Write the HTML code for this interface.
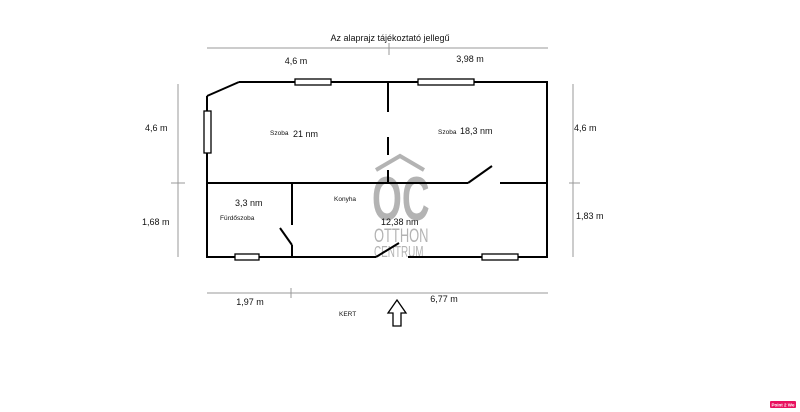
<!DOCTYPE html>
<html><head><meta charset="utf-8"><style>html,body{margin:0;padding:0;background:#fff;}svg{display:block;}</style></head>
<body>
<svg width="800" height="412" viewBox="0 0 800 412" xmlns="http://www.w3.org/2000/svg" font-family="Liberation Sans, sans-serif">
<!-- watermark -->
<g fill="#9a9a9a" opacity="0.75">
<polyline points="376,170 400,156 424,170" fill="none" stroke="#9a9a9a" stroke-width="4"/>
<text x="0" y="0" font-size="62" font-weight="bold" transform="translate(372,220) scale(0.62,1)">OC</text>
<text x="0" y="0" font-size="19" transform="translate(374,242) scale(0.68,1)">OTTHON</text>
<text x="0" y="0" font-size="16" transform="translate(374,257) scale(0.62,1)">CENTRUM</text>
</g>
<g stroke="#000" stroke-width="2" fill="none">
<line x1="207" y1="96" x2="239" y2="82"/>
<line x1="239" y1="82" x2="548" y2="82"/>
<line x1="207" y1="96" x2="207" y2="258"/>
<line x1="547" y1="82" x2="547" y2="258"/>
<line x1="206" y1="257" x2="376" y2="257"/>
<line x1="376" y1="257" x2="399" y2="243"/>
<line x1="408" y1="257" x2="548" y2="257"/>
<line x1="207" y1="183" x2="468" y2="183"/>
<line x1="468" y1="183" x2="492" y2="166"/>
<line x1="500" y1="183" x2="547" y2="183"/>
<line x1="388" y1="82" x2="388" y2="112"/>
<line x1="388" y1="137" x2="388" y2="155"/>
<line x1="388" y1="170" x2="388" y2="183"/>
<line x1="292" y1="183" x2="292" y2="225"/>
<line x1="280" y1="228" x2="292" y2="245"/>
<line x1="292" y1="245" x2="292" y2="257"/>
</g>
<g stroke="#000" stroke-width="1.3" fill="#fff">
<rect x="295" y="79" width="36" height="6"/>
<rect x="418" y="79" width="56" height="6"/>
<rect x="204" y="111" width="7" height="42"/>
<rect x="235" y="254" width="24" height="6"/>
<rect x="482" y="254" width="36" height="6"/>
</g>
<g stroke="#999" stroke-width="1">
<line x1="207" y1="48" x2="548" y2="48"/>
<line x1="389" y1="43" x2="389" y2="55"/>
<line x1="178" y1="84" x2="178" y2="257"/>
<line x1="171" y1="183" x2="185" y2="183"/>
<line x1="573" y1="84" x2="573" y2="257"/>
<line x1="569" y1="183" x2="580" y2="183"/>
<line x1="207" y1="293" x2="548" y2="293"/>
<line x1="291" y1="288" x2="291" y2="298"/>
</g>
<polygon points="397,300 406,313 401,313 401,326 393,326 393,313 388,313" fill="#fff" stroke="#000" stroke-width="1.3"/>
<g fill="#111" font-size="9">
<text x="390" y="41" text-anchor="middle">Az alaprajz tájékoztató jellegű</text>
<text x="296" y="64" text-anchor="middle">4,6 m</text>
<text x="470" y="62" text-anchor="middle">3,98 m</text>
<text x="145" y="131">4,6 m</text>
<text x="574" y="131">4,6 m</text>
<text x="142" y="225">1,68 m</text>
<text x="576" y="219">1,83 m</text>
<text x="250" y="305" text-anchor="middle">1,97 m</text>
<text x="444" y="302" text-anchor="middle">6,77 m</text>
<text x="293" y="137">21 nm</text>
<text x="460" y="134">18,3 nm</text>
<text x="235" y="206">3,3 nm</text>
<text x="381" y="225">12,38 nm</text>
</g>
<g fill="#111" font-size="6.5">
<text x="270" y="135">Szoba</text>
<text x="438" y="134">Szoba</text>
<text x="334" y="201">Konyha</text>
<text x="220" y="220">Fürdőszoba</text>
<text x="339" y="316">KERT</text>
</g>
<rect x="770" y="401" width="26" height="7" rx="1" fill="#e8115e"/>
<text x="783" y="406.5" font-size="4.5" fill="#fff" text-anchor="middle" font-weight="bold">Point 2 We</text>
</svg>
</body></html>
